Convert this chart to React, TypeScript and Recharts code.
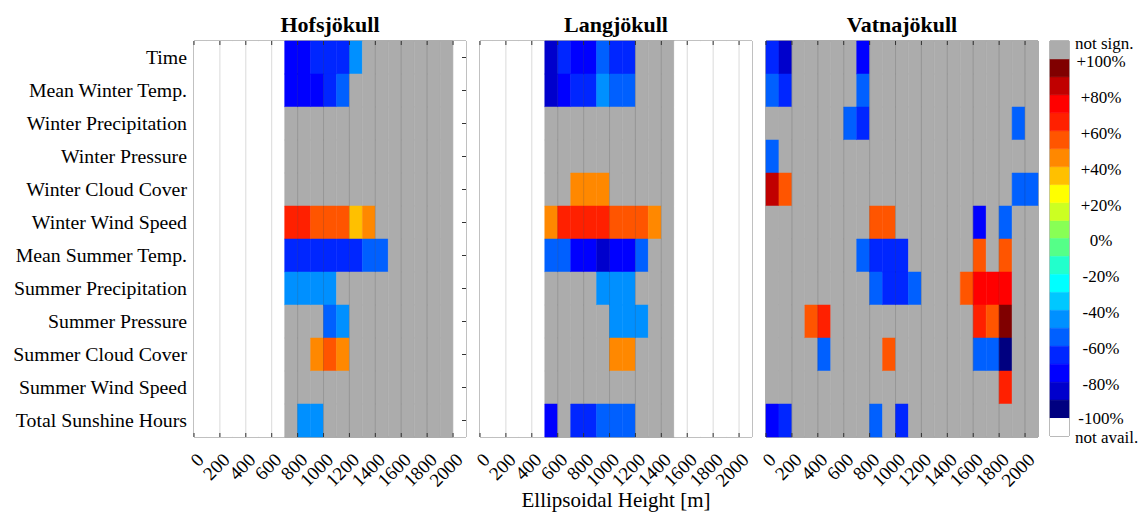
import React from 'react';
import { BarChart, Bar, XAxis, YAxis, Cell, ReferenceLine, ReferenceArea } from 'recharts';

const SERIF = '"Liberation Serif", "Times New Roman", serif';

// height bins (lower edge, 100 m wide)
const heights = [0, 100, 200, 300, 400, 500, 600, 700, 800, 900, 1000, 1100, 1200, 1300, 1400, 1500, 1600, 1700, 1800, 1900, 2000];
const heightTicks = [0, 200, 400, 600, 800, 1000, 1200, 1400, 1600, 1800, 2000];

const variables = [
  'Time',
  'Mean Winter Temp.',
  'Winter Precipitation',
  'Winter Pressure',
  'Winter Cloud Cover',
  'Winter Wind Speed',
  'Mean Summer Temp.',
  'Summer Precipitation',
  'Summer Pressure',
  'Summer Cloud Cover',
  'Summer Wind Speed',
  'Total Sunshine Hours',
];

// range of heights with data [from, to)
const hofsRange = [700, 2000];
const langRange = [500, 1500];
const vatnRange = [0, 2100];

// significant cells: [variable, bin lower edge, change in %]
const hofsCells: [string, number, number][] = [
  ['Time', 700, -75], ['Time', 800, -75], ['Time', 900, -65], ['Time', 1000, -65], ['Time', 1100, -65], ['Time', 1200, -45],
  ['Mean Winter Temp.', 700, -75], ['Mean Winter Temp.', 800, -75], ['Mean Winter Temp.', 900, -75], ['Mean Winter Temp.', 1000, -65], ['Mean Winter Temp.', 1100, -55],
  ['Winter Wind Speed', 700, 65], ['Winter Wind Speed', 800, 65], ['Winter Wind Speed', 900, 55], ['Winter Wind Speed', 1000, 55], ['Winter Wind Speed', 1100, 55], ['Winter Wind Speed', 1200, 35], ['Winter Wind Speed', 1300, 45],
  ['Mean Summer Temp.', 700, -65], ['Mean Summer Temp.', 800, -65], ['Mean Summer Temp.', 900, -65], ['Mean Summer Temp.', 1000, -65], ['Mean Summer Temp.', 1100, -65], ['Mean Summer Temp.', 1200, -65], ['Mean Summer Temp.', 1300, -55], ['Mean Summer Temp.', 1400, -55],
  ['Summer Precipitation', 700, -45], ['Summer Precipitation', 800, -45], ['Summer Precipitation', 900, -45], ['Summer Precipitation', 1000, -45],
  ['Summer Pressure', 1000, -55], ['Summer Pressure', 1100, -45],
  ['Summer Cloud Cover', 900, 45], ['Summer Cloud Cover', 1000, 55], ['Summer Cloud Cover', 1100, 45],
  ['Total Sunshine Hours', 800, -45], ['Total Sunshine Hours', 900, -45],
];

const langCells: [string, number, number][] = [
  ['Time', 500, -85], ['Time', 600, -65], ['Time', 700, -75], ['Time', 800, -75], ['Time', 900, -55], ['Time', 1000, -65], ['Time', 1100, -65],
  ['Mean Winter Temp.', 500, -85], ['Mean Winter Temp.', 600, -75], ['Mean Winter Temp.', 700, -65], ['Mean Winter Temp.', 800, -65], ['Mean Winter Temp.', 900, -45], ['Mean Winter Temp.', 1000, -55], ['Mean Winter Temp.', 1100, -55],
  ['Winter Cloud Cover', 700, 45], ['Winter Cloud Cover', 800, 45], ['Winter Cloud Cover', 900, 45],
  ['Winter Wind Speed', 500, 45], ['Winter Wind Speed', 600, 65], ['Winter Wind Speed', 700, 65], ['Winter Wind Speed', 800, 65], ['Winter Wind Speed', 900, 65], ['Winter Wind Speed', 1000, 55], ['Winter Wind Speed', 1100, 55], ['Winter Wind Speed', 1200, 55], ['Winter Wind Speed', 1300, 45],
  ['Mean Summer Temp.', 500, -55], ['Mean Summer Temp.', 600, -55], ['Mean Summer Temp.', 700, -75], ['Mean Summer Temp.', 800, -75], ['Mean Summer Temp.', 900, -85], ['Mean Summer Temp.', 1000, -75], ['Mean Summer Temp.', 1100, -75], ['Mean Summer Temp.', 1200, -55],
  ['Summer Precipitation', 900, -45], ['Summer Precipitation', 1000, -45], ['Summer Precipitation', 1100, -45],
  ['Summer Pressure', 1000, -45], ['Summer Pressure', 1100, -45], ['Summer Pressure', 1200, -45],
  ['Summer Cloud Cover', 1000, 45], ['Summer Cloud Cover', 1100, 45],
  ['Total Sunshine Hours', 500, -75], ['Total Sunshine Hours', 700, -65], ['Total Sunshine Hours', 800, -65], ['Total Sunshine Hours', 900, -55], ['Total Sunshine Hours', 1000, -55], ['Total Sunshine Hours', 1100, -55],
];

const vatnCells: [string, number, number][] = [
  ['Time', 0, -65], ['Time', 100, -85], ['Time', 700, -75],
  ['Mean Winter Temp.', 0, -55], ['Mean Winter Temp.', 100, -65], ['Mean Winter Temp.', 700, -55],
  ['Winter Precipitation', 600, -55], ['Winter Precipitation', 700, -65], ['Winter Precipitation', 1900, -55],
  ['Winter Pressure', 0, -55],
  ['Winter Cloud Cover', 0, 85], ['Winter Cloud Cover', 100, 55], ['Winter Cloud Cover', 1900, -55], ['Winter Cloud Cover', 2000, -55],
  ['Winter Wind Speed', 800, 55], ['Winter Wind Speed', 900, 55], ['Winter Wind Speed', 1600, -75], ['Winter Wind Speed', 1800, -55],
  ['Mean Summer Temp.', 700, -55], ['Mean Summer Temp.', 800, -65], ['Mean Summer Temp.', 900, -65], ['Mean Summer Temp.', 1000, -65], ['Mean Summer Temp.', 1600, 55], ['Mean Summer Temp.', 1800, 55],
  ['Summer Precipitation', 800, -55], ['Summer Precipitation', 900, -65], ['Summer Precipitation', 1000, -65], ['Summer Precipitation', 1100, -55], ['Summer Precipitation', 1500, 55], ['Summer Precipitation', 1600, 75], ['Summer Precipitation', 1700, 75], ['Summer Precipitation', 1800, 75],
  ['Summer Pressure', 300, 55], ['Summer Pressure', 400, 65], ['Summer Pressure', 1600, 65], ['Summer Pressure', 1700, 55], ['Summer Pressure', 1800, 95],
  ['Summer Cloud Cover', 400, -55], ['Summer Cloud Cover', 900, 55], ['Summer Cloud Cover', 1600, -55], ['Summer Cloud Cover', 1700, -55], ['Summer Cloud Cover', 1800, -95],
  ['Summer Wind Speed', 1800, 65],
  ['Total Sunshine Hours', 0, -75], ['Total Sunshine Hours', 100, -65], ['Total Sunshine Hours', 800, -55], ['Total Sunshine Hours', 1000, -65],
];

// colour scale, 10 % steps from -100 to +100
const scaleColors = [
  '#000080', '#0000cc', '#0000ff', '#0026ff', '#0060ff', '#0090ff', '#00c8ff', '#00ffff', '#22ffcc', '#55ff88',
  '#88ff55', '#ccff22', '#ffff00', '#ffc000', '#ff8800', '#ff5500', '#ff2000', '#ff0000', '#c00000', '#800000',
];
const NOT_SIGN = '#acacac';
const NOT_AVAIL = '#ffffff';
const scaleTicks = [-109, -100, -80, -60, -40, -20, 0, 20, 40, 60, 80, 100, 109];

const colorFor = (v: number) => scaleColors[Math.max(0, Math.min(19, Math.floor((v + 100) / 10)))];

function buildPanel(cells: [string, number, number][], range: number[]) {
  const rows = variables.map((name) => {
    const row: any = { name };
    heights.forEach((h, k) => { row['s' + k] = 100; });
    return row;
  });
  const fills = variables.map((name) =>
    heights.map((h) => {
      if (h < range[0] || h >= range[1]) return NOT_AVAIL;
      const hit = cells.find((c) => c[0] === name && c[1] === h);
      return hit ? colorFor(hit[2]) : NOT_SIGN;
    })
  );
  return { rows, fills };
}

const PLOT_TOP = 41;
const PLOT_BOTTOM = 437;

function HeightTick(props: any) {
  const { x, y, payload } = props;
  return (
    <g>
      <line x1={x} x2={x} y1={PLOT_BOTTOM} y2={PLOT_BOTTOM - 4} stroke="#333" />
      <line x1={x} x2={x} y1={PLOT_TOP} y2={PLOT_TOP + 4} stroke="#333" />
      <text transform={`translate(${x + 11},${y + 24}) rotate(-45)`} textAnchor="end" fontSize={19} fontFamily={SERIF} fill="#000">
        {payload.value}
      </text>
    </g>
  );
}

function GlacierPanel({ title, left, cells, range, withLabels, tickSide }: any) {
  const { rows, fills } = buildPanel(cells, range);
  const chartLeft = withLabels ? 0 : left - 10;
  const width = withLabels ? left + 282 : 292;
  const plotL = left - chartLeft;
  const plotR = plotL + 272;
  const varTick = (p: any) => {
    const tx = tickSide === 'left' ? plotL : plotR - 4;
    return (
      <g>
        <line x1={tx} x2={tx + 4} y1={p.y} y2={p.y} stroke="#333" />
        {withLabels && (
          <text x={left - 7} y={p.y} dy="0.35em" textAnchor="end" fontSize={19.8} fontFamily={SERIF} fill="#000">
            {p.payload.value}
          </text>
        )}
      </g>
    );
  };
  return (
    <>
      <div style={{ position: 'absolute', left, top: 14, width: 272, textAlign: 'center', fontWeight: 'bold', fontSize: 22, lineHeight: '22px', fontFamily: SERIF }}>
        {title}
      </div>
      <div style={{ position: 'absolute', left: chartLeft, top: 0 }}>
        <BarChart
          width={width}
          height={515}
          data={rows}
          layout="vertical"
          margin={{ top: PLOT_TOP, right: 10, bottom: 18, left: withLabels ? 0 : 10 }}
          barCategoryGap={0}
          barGap={0}
        >
          <XAxis type="number" domain={[0, 2100]} ticks={heightTicks} interval={0} tickSize={0} tickMargin={0} axisLine={false} tickLine={false} height={60} tick={<HeightTick />} />
          <YAxis type="category" dataKey="name" width={withLabels ? left : 0} axisLine={false} tickLine={false} tickSize={0} interval={0} tick={varTick} />
          {heights.map((h, k) => (
            <Bar key={h} dataKey={'s' + k} stackId="c" isAnimationActive={false}>
              {rows.map((r, i) => (
                <Cell key={i} fill={fills[i][k]} stroke={fills[i][k]} strokeWidth={0.5} />
              ))}
            </Bar>
          ))}
          {heightTicks.slice(1).map((t) => (
            <ReferenceLine key={t} x={t} stroke="#000" strokeOpacity={0.15} />
          ))}
          <ReferenceArea x1={0} x2={2100} fill="none" fillOpacity={0} stroke="#5a5a5a" strokeWidth={1} />
        </BarChart>
      </div>
    </>
  );
}

function ScaleTick(props: any) {
  const { y, payload } = props;
  const v = payload.value;
  if (v === 109 || v === -109) {
    return (
      <text x={35} y={y + (v > 0 ? 0 : 3)} dy="0.35em" textAnchor="start" fontSize={17} fontFamily={SERIF} fill="#000">
        {v > 0 ? 'not sign.' : 'not avail.'}
      </text>
    );
  }
  const label = v > 0 ? `+${v}%` : `${v}%`;
  return (
    <text x={61} y={y + (v === -100 ? 0 : 2)} dy="0.35em" textAnchor="middle" fontSize={17} fontFamily={SERIF} fill="#000">
      {label}
    </text>
  );
}

function ColorScale() {
  const row: any = { name: 'scale', pg: 10, nw: -10 };
  for (let i = 0; i < 10; i++) {
    row['p' + i] = 10;
    row['n' + i] = -10;
  }
  const pos = [0, 1, 2, 3, 4, 5, 6, 7, 8, 9];
  return (
    <div style={{ position: 'absolute', left: 1040, top: 0 }}>
      <BarChart width={103} height={515} data={[row]} stackOffset="sign" barCategoryGap={0} barGap={0} margin={{ top: 41, right: 10, bottom: 79, left: 10 }}>
        <XAxis dataKey="name" hide />
        <YAxis type="number" domain={[-110, 110]} orientation="right" width={64} ticks={scaleTicks} interval={0} axisLine={false} tickLine={false} tick={<ScaleTick />} />
        {pos.map((i) => (
          <Bar key={'p' + i} dataKey={'p' + i} stackId="s" isAnimationActive={false}>
            <Cell fill={scaleColors[10 + i]} stroke={scaleColors[10 + i]} strokeWidth={0.5} />
          </Bar>
        ))}
        <Bar dataKey="pg" stackId="s" isAnimationActive={false}>
          <Cell fill={NOT_SIGN} stroke={NOT_SIGN} strokeWidth={0.5} />
        </Bar>
        {pos.map((i) => (
          <Bar key={'n' + i} dataKey={'n' + i} stackId="s" isAnimationActive={false}>
            <Cell fill={scaleColors[9 - i]} stroke={scaleColors[9 - i]} strokeWidth={0.5} />
          </Bar>
        ))}
        <Bar dataKey="nw" stackId="s" isAnimationActive={false}>
          <Cell fill={NOT_AVAIL} />
        </Bar>
        <ReferenceArea y1={-110} y2={110} fill="none" fillOpacity={0} stroke="#777" strokeWidth={1} />
      </BarChart>
    </div>
  );
}

export default function App() {
  return (
    <div style={{ position: 'absolute', left: 0, top: 0, width: 1143, height: 515, background: '#fff', fontFamily: SERIF, overflow: 'hidden' }}>
      <GlacierPanel title="Hofsjökull" left={194} cells={hofsCells} range={hofsRange} withLabels tickSide="right" />
      <GlacierPanel title="Langjökull" left={480} cells={langCells} range={langRange} tickSide="left" />
      <GlacierPanel title="Vatnajökull" left={766} cells={vatnCells} range={vatnRange} tickSide="right" />
      <ColorScale />
      <div style={{ position: 'absolute', left: 416, top: 490, width: 400, textAlign: 'center', fontSize: 21, lineHeight: '21px', fontFamily: SERIF }}>
        Ellipsoidal Height [m]
      </div>
    </div>
  );
}
